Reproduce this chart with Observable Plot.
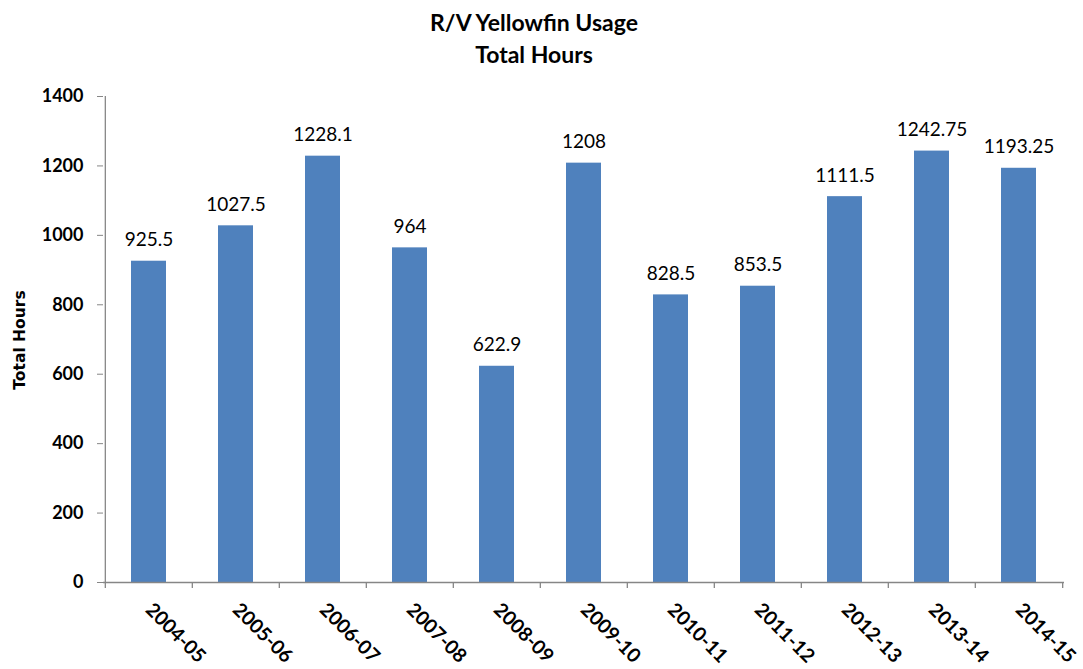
<!DOCTYPE html>
<html>
<head>
<meta charset="utf-8">
<script src="https://cdn.jsdelivr.net/npm/d3@7"></script>
<script src="https://cdn.jsdelivr.net/npm/@observablehq/plot@0.6"></script>
<style>
  html, body { margin: 0; padding: 0; background: #fff; }
  #wrap { position: relative; width: 1083px; height: 669px; font-family: Lato, "Open Sans", sans-serif; }
  #wrap svg { position: absolute; left: 0; top: 0; }
  .title { position: absolute; left: 384px; width: 300px; text-align: center; font-weight: bold; font-size: 23px; line-height: 1; color: #000; white-space: nowrap; }
  #ylab { position: absolute; left: 20px; top: 340px; transform: translate(-50%, -50%) rotate(-90deg); font-family: "DejaVu Sans", sans-serif; font-weight: bold; font-size: 15.5px; white-space: nowrap; }
</style>
</head>
<body>
<div id="wrap">
  <div class="title" style="top:11px">R/V Yellowfin Usage</div>
  <div class="title" style="top:43px">Total Hours</div>
  <div id="ylab">Total Hours</div>
</div>
<script>
const seasons = ["2004-05", "2005-06", "2006-07", "2007-08", "2008-09", "2009-10", "2010-11", "2011-12", "2012-13", "2013-14", "2014-15"];
const hours = [925.5, 1027.5, 1228.1, 964, 622.9, 1208, 828.5, 853.5, 1111.5, 1242.75, 1193.25];
const yTicks = [0, 200, 400, 600, 800, 1000, 1200, 1400];

const data = seasons.map((s, i) => ({season: s, hours: hours[i]}));

const W = 1083, H = 669, mL = 103, mR = 19, mT = 96, mB = 87;
const bw = (W - mL - mR) / seasons.length;
const axisGrey = "#868686";

const chart = Plot.plot({
  width: W,
  height: H,
  marginLeft: mL,
  marginRight: mR,
  marginTop: mT,
  marginBottom: mB,
  style: {fontFamily: "Lato, 'Open Sans', sans-serif", fontSize: "17px", color: "#000", background: "transparent"},
  x: {domain: seasons, paddingInner: 0.6, paddingOuter: 0.3, label: null},
  y: {domain: [0, 1400], label: null},
  marks: [
    Plot.barY(data, {x: "season", y: "hours", fill: "#4F81BD"}),
    Plot.text(data, {x: "season", y: "hours", text: d => String(d.hours), lineAnchor: "bottom", dy: -15, fontSize: 19, fill: "#000"}),
    Plot.ruleX([seasons[0]], {dx: -bw / 2, stroke: axisGrey, strokeWidth: 1.3}),
    Plot.ruleY([0], {stroke: axisGrey, strokeWidth: 1.3}),
    Plot.ruleX(seasons, {x: d => d, y1: 0, y2: 0, insetBottom: -6, dx: -bw / 2, stroke: axisGrey, strokeWidth: 1.3}),
    Plot.ruleX([seasons[seasons.length - 1]], {x: d => d, y1: 0, y2: 0, insetBottom: -6, dx: bw / 2, stroke: axisGrey, strokeWidth: 1.3}),
    Plot.axisY({ticks: yTicks, tickFormat: d => String(d), tickSize: 6, tickPadding: 14, stroke: axisGrey, fill: "#000", fontWeight: "bold", fontSize: 18, label: null}),
    Plot.axisX({tickSize: 0, tickRotate: 45, tickPadding: 24, fill: "#000", fontWeight: "bold", fontSize: 19.5, label: null})
  ]
});
document.getElementById("wrap").prepend(chart);
</script>
</body>
</html>
